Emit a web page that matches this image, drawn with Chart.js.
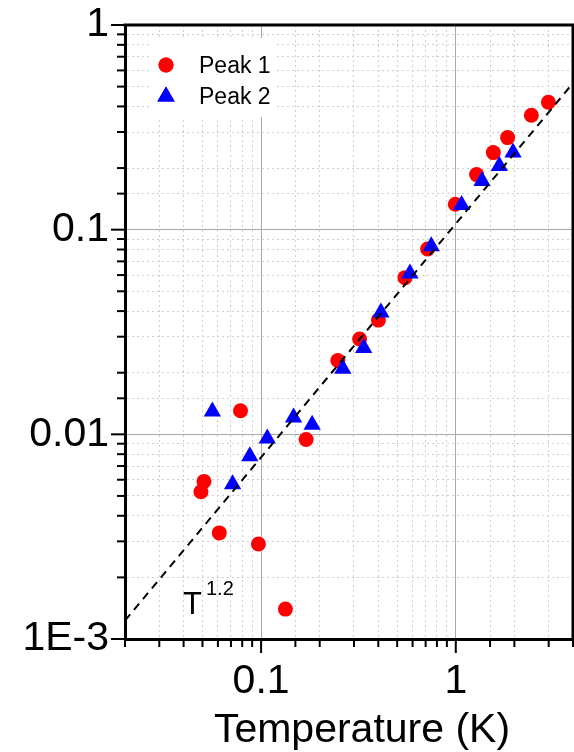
<!DOCTYPE html>
<html><head><meta charset="utf-8">
<script src="https://cdn.jsdelivr.net/npm/chart.js@4.4.1/dist/chart.umd.min.js"></script>
<style>html,body{margin:0;padding:0;background:#fff;} canvas{display:block;}</style>
</head><body>
<canvas id="c" width="574" height="752"></canvas>
<script>
// ---- data ----
const peak1T = [0.0491, 0.0509, 0.0610, 0.0784, 0.0969, 0.1333, 0.1703, 0.2479, 0.3206, 0.4005, 0.5482, 0.7161, 0.994, 1.279, 1.559, 1.846, 2.444, 2.990];
const peak1Y = [0.00524, 0.00589, 0.00330, 0.01303, 0.00291, 0.00140, 0.00944, 0.02294, 0.02922, 0.03615, 0.0583, 0.0804, 0.1330, 0.1858, 0.2380, 0.2818, 0.3624, 0.4196];
const peak2T = [0.0562, 0.0714, 0.0875, 0.1076, 0.1468, 0.1829, 0.2628, 0.3365, 0.4125, 0.5815, 0.7483, 1.071, 1.364, 1.674, 1.968];
const peak2Y = [0.01294, 0.00571, 0.00782, 0.00953, 0.01210, 0.01113, 0.02091, 0.02640, 0.03939, 0.0610, 0.0830, 0.1318, 0.1727, 0.2045, 0.2383];
const fitT = [0.02, 4];
const fitY = [0.00123, 0.52];
const xTickValues = [0.1, 1];
const xTickLabels = ['0.1', '1'];
const yTickValues = [0.001, 0.01, 0.1, 1];
const yTickLabels = ['1E-3', '0.01', '0.1', '1'];
const seriesNames = ['Peak 1', 'Peak 2'];
const fitLabel = ['T', '1.2'];
const xTitle = 'Temperature (K)';

const FONT = "'Liberation Sans', Arial, Helvetica, sans-serif";
const pts = (xs, ys) => xs.map((x, i) => ({x, y: ys[i]}));
const isDecade = v => { const l = Math.log10(v); return Math.abs(l - Math.round(l)) < 1e-6; };
const labelFor = (v, vals, labs) => { for (let i = 0; i < vals.length; i++) { if (Math.abs(Math.log10(v) - Math.log10(vals[i])) < 1e-6) return labs[i]; } return ''; };
const zeroPad = s => { s.paddingTop = 0; s.paddingBottom = 0; s.paddingLeft = 0; s.paddingRight = 0; };

function gridColor(ctx) {
  const t = ctx.tick; if (!t) return 'rgba(0,0,0,0)';
  const s = ctx.scale;
  if (Math.abs(t.value - s.min) / s.min < 1e-6 || Math.abs(t.value - s.max) / s.max < 1e-6) return 'rgba(0,0,0,0)';
  return isDecade(t.value) ? '#a9a9a9' : '#cfcfcf';
}
function gridDash(ctx) {
  const t = ctx.tick; if (!t) return [];
  return isDecade(t.value) ? [] : [2, 3];
}

const framePlugin = {
  id: 'frameTicks',
  afterDraw(chart) {
    const {ctx, chartArea: a, scales} = chart;
    ctx.save();
    // legend background covers the grid
    ctx.fillStyle = '#fff';
    ctx.fillRect(150, 38, 125, 79);
    // outward tick marks (major longer than minor)
    ctx.strokeStyle = '#000'; ctx.lineWidth = 2;
    const xs = scales.x, ys = scales.y;
    xs.ticks.forEach(t => {
      const px = xs.getPixelForValue(t.value);
      const len = isDecade(t.value) ? 14 : 8;
      ctx.beginPath(); ctx.moveTo(px, a.bottom); ctx.lineTo(px, a.bottom + len); ctx.stroke();
    });
    ys.ticks.forEach(t => {
      const py = ys.getPixelForValue(t.value);
      const len = isDecade(t.value) ? 14 : 8;
      ctx.beginPath(); ctx.moveTo(a.left, py); ctx.lineTo(a.left - len, py); ctx.stroke();
    });
    // top and right frame
    ctx.lineWidth = 3;
    ctx.beginPath();
    ctx.moveTo(a.left - 1.5, a.top); ctx.lineTo(a.right, a.top); ctx.lineTo(a.right, a.bottom);
    ctx.stroke();
    // legend entries, styled from the datasets
    const ds = chart.data.datasets;
    const rows = [{d: ds[2], y: 65, ty: 72.5}, {d: ds[1], y: 96.5, ty: 103.5}];
    rows.forEach(r => {
      ctx.fillStyle = r.d.backgroundColor;
      Chart.helpers.drawPoint(ctx, {pointStyle: r.d.pointStyle, radius: r.d.pointRadius, rotation: 0, borderWidth: 0}, 166, r.y);
      ctx.fill();
      ctx.fillStyle = '#000';
      ctx.font = '23px ' + FONT; ctx.textBaseline = 'alphabetic'; ctx.textAlign = 'left';
      ctx.fillText(r.d.label, 199, r.ty);
    });
    // T^1.2 annotation
    ctx.fillStyle = '#000';
    ctx.font = '31px ' + FONT;
    ctx.fillText(fitLabel[0], 183, 613.5);
    ctx.font = '20px ' + FONT;
    ctx.fillText(fitLabel[1], 206, 595);
    // x axis title (sits right of the axis centre as in the reference)
    ctx.font = '41px ' + FONT; ctx.textAlign = 'center';
    ctx.fillText(xTitle, 362, 742);
    ctx.restore();
  }
};

new Chart(document.getElementById('c'), {
  type: 'scatter',
  data: {
    datasets: [
      {label: 'fit', type: 'line', data: pts(fitT, fitY), borderColor: '#000', borderWidth: 2, borderDash: [8, 6], pointRadius: 0, fill: false, order: 0},
      {label: seriesNames[1], data: pts(peak2T, peak2Y), backgroundColor: '#0000ff', borderColor: '#0000ff', borderWidth: 0, pointStyle: 'triangle', pointRadius: 10, pointHoverRadius: 10, order: 1},
      {label: seriesNames[0], data: pts(peak1T, peak1Y), backgroundColor: '#ff0000', borderColor: '#ff0000', borderWidth: 0, pointStyle: 'circle', pointRadius: 7.5, pointHoverRadius: 7.5, order: 2}
    ]
  },
  options: {
    responsive: false,
    devicePixelRatio: 1,
    animation: false,
    layout: {autoPadding: false, padding: {top: 25, right: 1, left: 0, bottom: 0}},
    plugins: {legend: {display: false}, tooltip: {enabled: false}},
    scales: {
      x: {
        type: 'logarithmic', min: 0.02, max: 4,
        afterFit: s => { s.height = 113; zeroPad(s); },
        grid: {color: gridColor, lineWidth: 1, drawTicks: false},
        border: {display: true, color: '#000', width: 3, dash: gridDash},
        ticks: {autoSkip: false, maxRotation: 0, padding: 18, color: '#000', font: {family: FONT, size: 41},
                callback: v => labelFor(v, xTickValues, xTickLabels)},
        title: {display: false, text: xTitle}
      },
      y: {
        type: 'logarithmic', min: 0.001, max: 1,
        afterFit: s => { s.width = 125; zeroPad(s); },
        grid: {color: gridColor, lineWidth: 1, drawTicks: false},
        border: {display: true, color: '#000', width: 3, dash: gridDash},
        ticks: {autoSkip: false, padding: 16, color: '#000', font: {family: FONT, size: 41},
                callback: v => labelFor(v, yTickValues, yTickLabels)}
      }
    }
  },
  plugins: [framePlugin]
});
</script>
</body></html>
